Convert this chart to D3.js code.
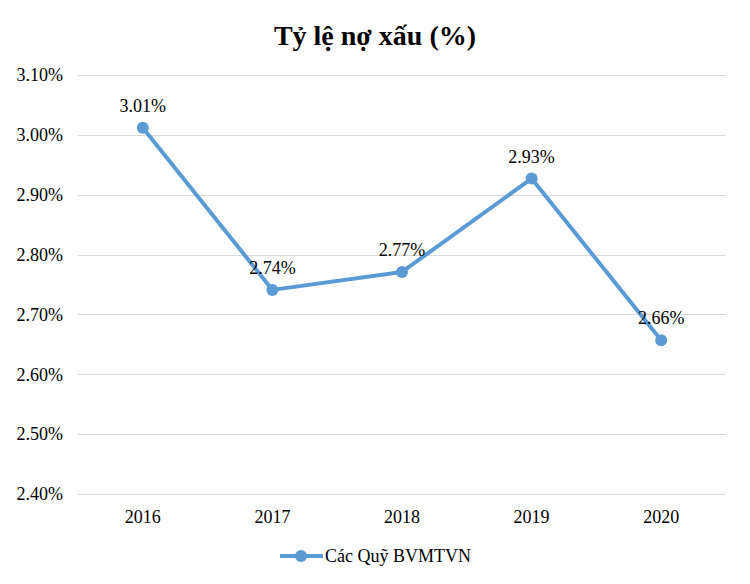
<!DOCTYPE html>
<html>
<head>
<meta charset="utf-8">
<script src="https://cdn.jsdelivr.net/npm/d3@7"></script>
<style>
  body { margin: 0; background: #fff; }
  svg text { font-family: "Liberation Serif", "Times New Roman", serif !important; fill: #000; }
</style>
</head>
<body>
<svg id="chart" width="750" height="584"></svg>
<script>
// data
var years = ["2016", "2017", "2018", "2019", "2020"];
var values = [3.012, 2.741, 2.771, 2.927, 2.657];
var labels = ["3.01%", "2.74%", "2.77%", "2.93%", "2.66%"];
var yTicks = [2.4, 2.5, 2.6, 2.7, 2.8, 2.9, 3.0, 3.1];
var seriesName = "Các Quỹ BVMTVN";

var color = "#5B9BD5";
var margin = { left: 78, right: 24, top: 75, bottom: 90 };
var width = 750, height = 584;

var svg = d3.select("#chart");

var x = d3.scaleBand().domain(years).range([margin.left, width - margin.right]);
var y = d3.scaleLinear().domain([2.4, 3.1]).range([height - margin.bottom, margin.top]);

// title
svg.append("text")
    .attr("x", width / 2)
    .attr("y", 45)
    .attr("text-anchor", "middle")
    .style("font-size", "28px")
    .style("font-weight", "bold")
    .text("Tỷ lệ nợ xấu (%)");

// gridlines
svg.append("g").selectAll("line")
    .data(yTicks)
    .enter().append("line")
    .attr("x1", margin.left)
    .attr("x2", width - margin.right)
    .attr("y1", function(d) { return Math.round(y(d)) + 0.5; })
    .attr("y2", function(d) { return Math.round(y(d)) + 0.5; })
    .attr("stroke", "#d9d9d9")
    .attr("stroke-width", 1);

// y axis labels
var yAxis = d3.axisLeft(y).tickValues(yTicks).tickSize(0).tickPadding(15)
    .tickFormat(function(d) { return d.toFixed(2) + "%"; });
var gy = svg.append("g").attr("transform", "translate(" + margin.left + ",0)").call(yAxis);
gy.attr("font-family", null).attr("font-size", null);
gy.select(".domain").remove();
gy.selectAll("text").style("font-size", "18px").attr("fill", "#000");

// x axis labels
var xAxis = d3.axisBottom(x).tickSize(0).tickPadding(16);
var gx = svg.append("g").attr("transform", "translate(0," + (height - margin.bottom) + ")").call(xAxis);
gx.attr("font-family", null).attr("font-size", null);
gx.select(".domain").remove();
gx.selectAll("text").style("font-size", "18px").attr("fill", "#000");

var pts = years.map(function(d, i) { return { year: d, v: values[i], label: labels[i] }; });
var cx = function(d) { return x(d.year) + x.bandwidth() / 2; };

// line
svg.append("path")
    .datum(pts)
    .attr("fill", "none")
    .attr("stroke", color)
    .attr("stroke-width", 4)
    .attr("stroke-linejoin", "round")
    .attr("d", d3.line().x(cx).y(function(d) { return y(d.v); }));

// markers
svg.append("g").selectAll("circle")
    .data(pts)
    .enter().append("circle")
    .attr("cx", cx)
    .attr("cy", function(d) { return y(d.v); })
    .attr("r", 6)
    .attr("fill", color);

// data labels
svg.append("g").selectAll("text")
    .data(pts)
    .enter().append("text")
    .attr("x", cx)
    .attr("y", function(d) { return y(d.v) - 16; })
    .attr("text-anchor", "middle")
    .style("font-size", "18px")
    .text(function(d) { return d.label; });

// legend
var lg = svg.append("g").attr("transform", "translate(280,556)");
lg.append("line").attr("x1", 0).attr("x2", 43).attr("y1", 0).attr("y2", 0)
    .attr("stroke", color).attr("stroke-width", 4);
lg.append("circle").attr("cx", 21).attr("cy", 0).attr("r", 6).attr("fill", color);
lg.append("text").attr("x", 45).attr("y", 6).style("font-size", "18px").text(seriesName);
</script>
</body>
</html>
